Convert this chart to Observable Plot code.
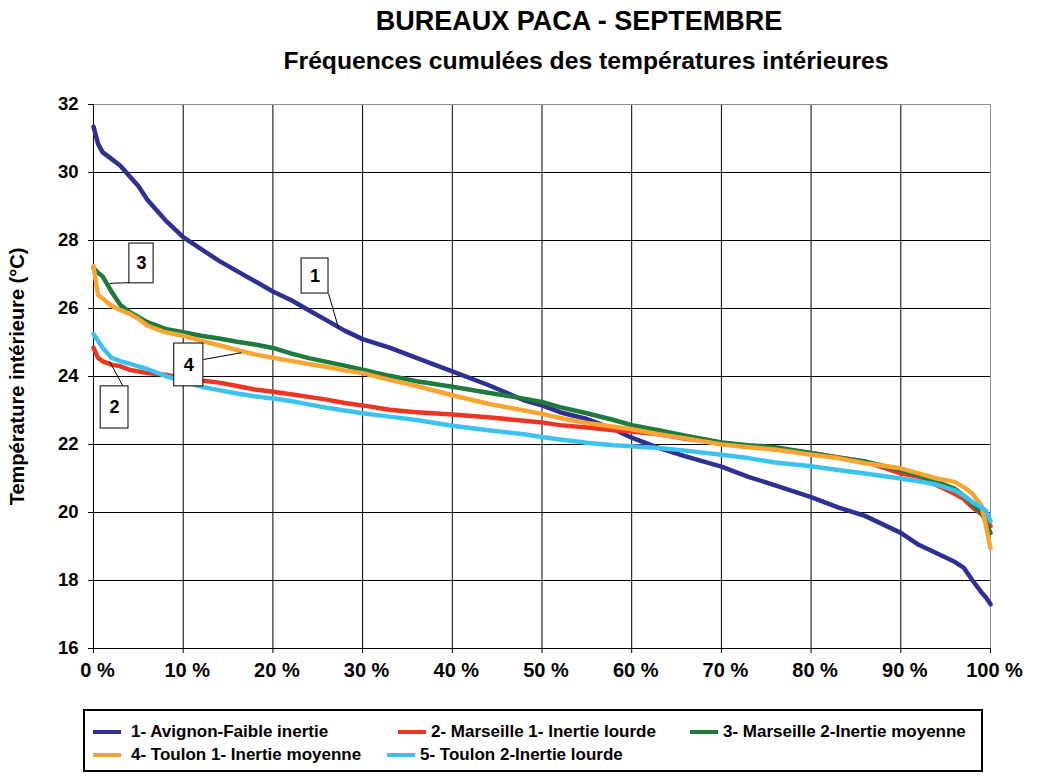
<!DOCTYPE html>
<html>
<head>
<meta charset="utf-8">
<script src="https://cdn.jsdelivr.net/npm/d3@7"></script>
<script src="https://cdn.jsdelivr.net/npm/@observablehq/plot@0.6"></script>
<style>
  html, body { margin: 0; padding: 0; background: #fff; }
  body { width: 1041px; height: 783px; position: relative; overflow: hidden; font-family: "Liberation Sans", Arial, sans-serif; }
  #title { position: absolute; left: 0; width: 1158px; top: 6px; text-align: center; font-weight: bold; font-size: 27px; color: #000; }
  #subtitle { position: absolute; left: 0; width: 1172px; top: 47px; text-align: center; font-weight: bold; font-size: 24.7px; color: #000; }
  #chart { position: absolute; left: 0; top: 90px; }
  #legend { position: absolute; left: 83px; top: 709px; width: 896px; height: 59px; border: 2px solid #000; }
  .item { position: absolute; font-weight: bold; font-size: 17px; color: #000; white-space: nowrap; line-height: 20px; }
  .sw { position: absolute; height: 4px; width: 28px; }
</style>
</head>
<body>
<div id="title">BUREAUX PACA - SEPTEMBRE</div>
<div id="subtitle">Fréquences cumulées des températures intérieures</div>
<div id="chart"></div>
<div id="legend"></div>
<script>
// Cumulative frequency (%)
const pct = [0, 0.5, 1, 2, 3, 4, 5, 6, 8, 10, 12, 14, 16, 18, 20, 22, 24, 26, 28, 30, 33, 36, 40, 44, 48, 50, 52, 55, 58, 60, 63, 66, 70, 73, 76, 80, 83, 86, 90, 92, 94, 96, 97, 98, 99, 99.5, 100];

const avignon = [31.35, 30.85, 30.6, 30.4, 30.2, 29.9, 29.6, 29.2, 28.6, 28.1, 27.75, 27.4, 27.1, 26.8, 26.5, 26.25, 25.95, 25.65, 25.35, 25.1, 24.85, 24.55, 24.15, 23.75, 23.3, 23.15, 22.95, 22.75, 22.45, 22.2, 21.9, 21.65, 21.35, 21.05, 20.8, 20.45, 20.15, 19.9, 19.4, 19.05, 18.8, 18.55, 18.38, 18.0, 17.65, 17.5, 17.3];
const marseille1 = [24.85, 24.55, 24.45, 24.35, 24.3, 24.2, 24.15, 24.1, 24.05, 23.95, 23.88, 23.82, 23.72, 23.62, 23.55, 23.48, 23.4, 23.32, 23.22, 23.15, 23.02, 22.95, 22.88, 22.8, 22.7, 22.65, 22.57, 22.5, 22.42, 22.38, 22.3, 22.17, 22.05, 21.95, 21.85, 21.75, 21.62, 21.5, 21.15, 21.05, 20.8, 20.55, 20.4, 20.15, 19.95, 19.8, 19.6];
const marseille2 = [27.2, 27.05, 26.95, 26.5, 26.1, 25.9, 25.75, 25.6, 25.4, 25.3, 25.2, 25.12, 25.02, 24.94, 24.84, 24.68, 24.54, 24.43, 24.32, 24.2, 24.02, 23.86, 23.7, 23.52, 23.35, 23.25, 23.1, 22.92, 22.72, 22.57, 22.42, 22.26, 22.06, 21.98, 21.92, 21.75, 21.62, 21.5, 21.25, 21.1, 20.9, 20.7, 20.5, 20.25, 20.0, 19.7, 19.4];
const toulon1 = [27.25, 26.4, 26.3, 26.08, 25.95, 25.85, 25.7, 25.5, 25.3, 25.2, 25.05, 24.92, 24.78, 24.65, 24.55, 24.46, 24.37, 24.28, 24.18, 24.1, 23.9, 23.72, 23.45, 23.2, 23.0, 22.9, 22.78, 22.63, 22.52, 22.45, 22.3, 22.18, 22.0, 21.92, 21.85, 21.7, 21.6, 21.45, 21.3, 21.15, 21.0, 20.9, 20.75, 20.55, 20.2, 19.6, 18.95];
const toulon2 = [25.25, 25.05, 24.85, 24.55, 24.45, 24.38, 24.3, 24.22, 24.02, 23.85, 23.7, 23.6, 23.5, 23.42, 23.35, 23.28, 23.18, 23.08, 23.0, 22.92, 22.82, 22.72, 22.55, 22.42, 22.3, 22.22, 22.15, 22.05, 21.98, 21.95, 21.9, 21.82, 21.7, 21.6, 21.47, 21.36, 21.25, 21.15, 21.0, 20.92, 20.82, 20.65, 20.5, 20.3, 20.15, 20.05, 19.75];

const seriesNames = ["1- Avignon-Faible inertie", "2- Marseille 1- Inertie lourde", "3- Marseille 2-Inertie moyenne", "4- Toulon 1- Inertie moyenne", "5- Toulon 2-Inertie lourde"];
const seriesColors = ["#2E3192", "#EE3524", "#1F7A3D", "#F7A533", "#3CC2EE"];
const seriesValues = [avignon, marseille1, marseille2, toulon1, toulon2];

const xTicks = [0, 10, 20, 30, 40, 50, 60, 70, 80, 90, 100];
const yTicks = [16, 18, 20, 22, 24, 26, 28, 30, 32];

// Callout boxes: label, box extent (x %, y °C), leader line
const calloutLabels = ["1", "3", "4", "2"];
const calloutX1 = [23.2, 4.0, 9.0, 0.8];
const calloutX2 = [26.2, 6.7, 12.25, 3.9];
const calloutY1 = [26.44, 26.74, 23.71, 22.47];
const calloutY2 = [27.47, 27.91, 24.97, 23.71];
const leaderFromX = [26.2, 4.0, 12.25, 3.3];
const leaderFromY = [26.44, 26.76, 24.5, 23.71];
const leaderToX = [27.3, 1.8, 16.5, 1.8];
const leaderToY = [25.44, 26.74, 24.7, 24.44];

const data = seriesValues.flatMap((vals, i) => vals.map((t, j) => ({x: pct[j], t, s: seriesNames[i]})));
const callouts = calloutLabels.map((label, i) => ({
  label, x1: calloutX1[i], x2: calloutX2[i], y1: calloutY1[i], y2: calloutY2[i],
  fx: leaderFromX[i], fy: leaderFromY[i], tx: leaderToX[i], ty: leaderToY[i]
}));

const chart = Plot.plot({
  width: 1041,
  height: 606,
  marginLeft: 93,
  marginRight: 51,
  marginTop: 14,
  marginBottom: 48,
  style: {fontFamily: "'Liberation Sans', Arial, sans-serif", background: "white"},
  x: {type: "linear", domain: [0, 100], label: null},
  y: {type: "linear", domain: [16, 32], label: null},
  color: {domain: seriesNames, range: seriesColors},
  marks: [
    Plot.gridX(xTicks.filter(d => d > 0 && d < 100), {stroke: "#000", strokeOpacity: 1, strokeWidth: 1}),
    Plot.gridY(yTicks.filter(d => d > 16 && d < 32), {stroke: "#000", strokeOpacity: 1, strokeWidth: 1}),
    Plot.ruleY([32], {stroke: "#8c8c8c", strokeWidth: 1}),
    Plot.ruleX([100], {stroke: "#8c8c8c", strokeWidth: 1}),
    Plot.ruleX([0], {stroke: "#000", strokeWidth: 1}),
    Plot.ruleY([16], {stroke: "#000", strokeWidth: 1}),
    Plot.axisY(yTicks, {tickSize: 5, tickPadding: 10, fontSize: 18.5, fontWeight: "bold", stroke: "#000", strokeOpacity: 1, fill: "#000", label: null}),
    Plot.axisX(xTicks, {tickSize: 5, tickPadding: 9, fontSize: 20, fontWeight: "bold", stroke: "#000", strokeOpacity: 1, fill: "#000", tickFormat: d => d + " %", label: null}),
    Plot.text(["Température intérieure (°C)"], {frameAnchor: "left", dx: -76, rotate: -90, textAnchor: "middle", fontSize: 20, fontWeight: "bold", fill: "#000"}),
    Plot.line(data, {x: "x", y: "t", z: "s", stroke: "s", strokeWidth: 4.5, curve: "linear", strokeLinejoin: "round", strokeLinecap: "round"}),
    Plot.link(callouts, {x1: "fx", y1: "fy", x2: "tx", y2: "ty", stroke: "#000", strokeWidth: 1}),
    Plot.rect(callouts, {x1: "x1", x2: "x2", y1: "y1", y2: "y2", fill: "white", stroke: "#000", strokeWidth: 1}),
    Plot.text(callouts, {x: d => (d.x1 + d.x2) / 2, y: d => (d.y1 + d.y2) / 2, text: "label", fontSize: 18, fontWeight: "bold", fill: "#000"})
  ]
});
// shift x tick labels slightly right, as in the reference
chart.querySelectorAll('g[aria-label="x-axis tick label"] text').forEach(t => t.setAttribute("dx", "4"));
document.getElementById("chart").appendChild(chart);

// Legend
const legendPos = [[8, 11], [313, 11], [605, 11], [8, 34], [302, 34]];
const legend = document.getElementById("legend");
seriesNames.forEach((name, i) => {
  const [lx, ly] = legendPos[i];
  const sw = document.createElement("div");
  sw.className = "sw";
  sw.style.left = lx + "px";
  sw.style.top = (ly + 8) + "px";
  sw.style.background = seriesColors[i];
  legend.appendChild(sw);
  const t = document.createElement("div");
  t.className = "item";
  t.style.left = (lx + (i === 0 || i === 3 ? 38 : 33)) + "px";
  t.style.top = ly + "px";
  t.textContent = name;
  legend.appendChild(t);
});
</script>
</body>
</html>
